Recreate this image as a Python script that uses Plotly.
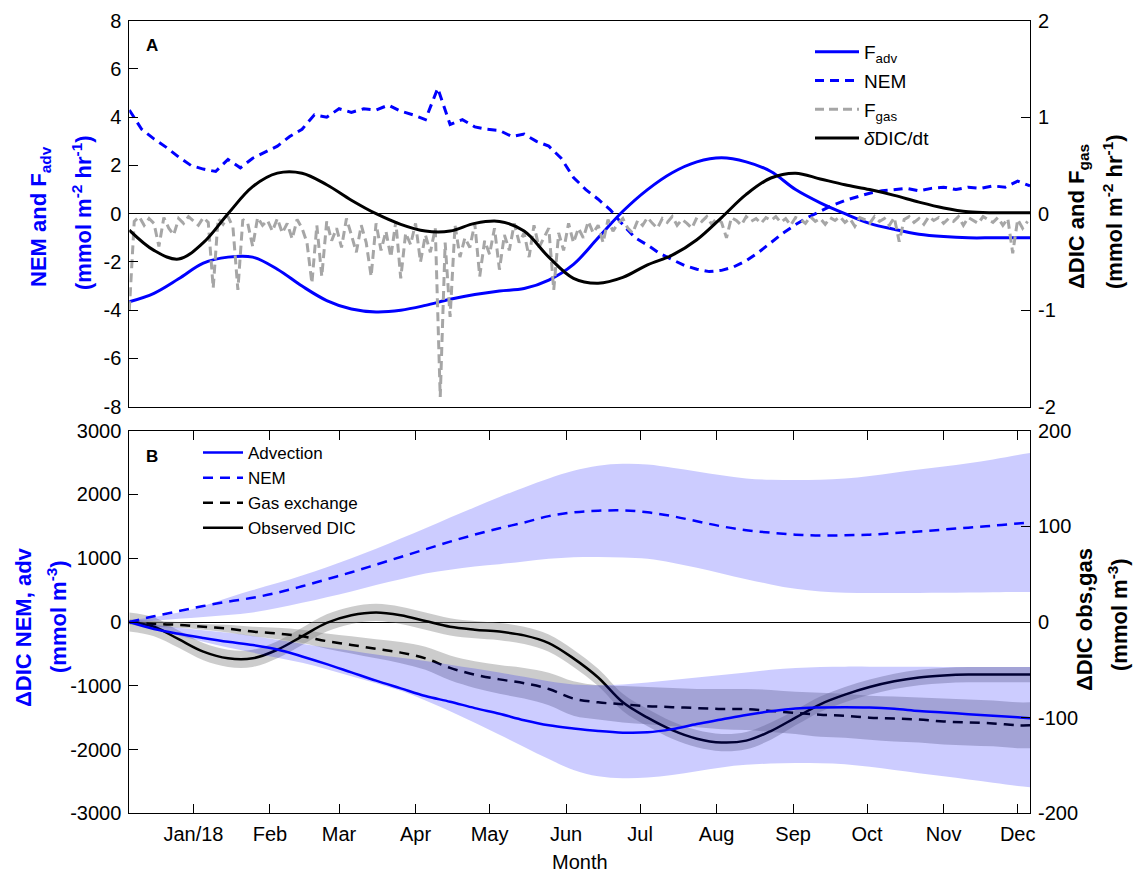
import pandas as pd
import plotly.graph_objects as go

# ---------------- data ----------------
START = pd.Timestamp("2017-12-06")
END = pd.Timestamp("2018-12-06")

# sample days (offset from START)
DAYS_10 = list(range(0, 361, 10)) + [365]
DAYS_5 = list(range(0, 366, 5))
DAYS_2 = list(range(0, 365, 2))

MONTH_TICKS = ["2018-01-01", "2018-02-01", "2018-03-01", "2018-04-01", "2018-05-01", "2018-06-01",
               "2018-07-01", "2018-08-01", "2018-09-01", "2018-10-01", "2018-11-01", "2018-12-01"]
MONTH_LABELS = ["Jan/18", "Feb", "Mar", "Apr", "May", "Jun", "Jul", "Aug", "Sep", "Oct", "Nov", "Dec"]

YA_TICKS = [-8, -6, -4, -2, 0, 2, 4, 6, 8]
YA_LABELS = ["-8", "-6", "-4", "-2", "0", "2", "4", "6", "8"]
YA2_TICKS = [-2, -1, 0, 1, 2]
YA2_LABELS = ["-2", "-1", "0", "1", "2"]
YB_TICKS = [-3000, -2000, -1000, 0, 1000, 2000, 3000]
YB_LABELS = ["-3000", "-2000", "-1000", "0", "1000", "2000", "3000"]
YB2_TICKS = [-200, -100, 0, 100, 200]
YB2_LABELS = ["-200", "-100", "0", "100", "200"]

# Panel A (left axis, mmol m-2 hr-1)
F_ADV = [-3.65, -3.3, -2.7, -2.05, -1.8, -1.8, -2.3, -3.0, -3.6, -3.95, -4.07, -4.0, -3.8, -3.55,
         -3.35, -3.2, -3.1, -2.75, -2.1, -1.0, 0.1, 1.0, 1.7, 2.15, 2.32, 2.15, 1.75, 1.0, 0.45, 0.0,
         -0.4, -0.65, -0.85, -0.95, -1.0, -1.0, -1.0, -1.0]
NEM_A = [4.3, 3.5, 3.1, 2.75, 2.35, 2.0, 1.85, 1.75, 2.25, 1.9, 2.3, 2.55, 2.8, 3.2, 3.5, 4.1, 4.0,
         4.35, 4.2, 4.35, 4.3, 4.5, 4.25, 4.1, 3.9, 5.2, 3.7, 3.9, 3.6, 3.5, 3.45, 3.2, 3.3, 3.0, 2.8,
         2.3, 1.5, 1.0, 0.6, 0.15, -0.45, -1.0, -1.3, -1.65, -1.9, -2.15, -2.3, -2.4, -2.35, -2.2,
         -1.95, -1.6, -1.2, -0.8, -0.45, -0.15, 0.1, 0.35, 0.55, 0.7, 0.85, 0.95, 1.0, 1.05, 0.95,
         1.05, 1.1, 1.0, 1.1, 1.05, 1.15, 1.1, 1.35, 1.15]
# Panel A (right axis), 2-day samples
F_GAS = [-1.0, -0.08, -0.03, -0.12, -0.05, -0.1, -0.34, -0.04, -0.15, -0.22,
         -0.05, -0.1, -0.03, -0.08, -0.12, -0.04, -0.09, -0.77, -0.05, -0.11,
         -0.03, -0.14, -0.79, -0.06, -0.1, -0.34, -0.04, -0.12, -0.07, -0.18,
         -0.05, -0.2, -0.1, -0.26, -0.06, -0.15, -0.3, -0.72, -0.12, -0.65,
         -0.08, -0.28, -0.15, -0.35, -0.05, -0.22, -0.4, -0.12, -0.3, -0.65,
         -0.1, -0.38, -0.18, -0.45, -0.08, -0.67, -0.2, -0.32, -0.1, -0.5,
         -0.22, -0.4, -0.15, -1.9, -0.3, -1.07, -0.12, -0.45, -0.25, -0.35,
         -0.1, -0.65, -0.28, -0.42, -0.15, -0.58, -0.22, -0.38, -0.1, -0.3,
         -0.2, -0.45, -0.12, -0.35, -0.25, -0.15, -0.79, -0.2, -0.38, -0.1,
         -0.3, -0.15, -0.25, -0.08, -0.2, -0.12, -0.3, -0.06, -0.18, -0.1,
         -0.05, -0.15, -0.2, -0.07, -0.12, -0.04, -0.1, -0.15, -0.05, -0.09,
         -0.03, -0.12, -0.06, -0.1, -0.15, -0.04, -0.08, -0.03, -0.11, -0.05,
         -0.09, -0.25, -0.04, -0.07, -0.12, -0.03, -0.08, -0.05, -0.1, -0.04,
         -0.07, -0.03, -0.09, -0.05, -0.12, -0.04, -0.06, -0.1, -0.03, -0.08,
         -0.05, -0.11, -0.04, -0.07, -0.03, -0.09, -0.05, -0.13, -0.04, -0.06,
         -0.1, -0.03, -0.08, -0.05, -0.12, -0.04, -0.29, -0.06, -0.03, -0.09,
         -0.05, -0.11, -0.03, -0.07, -0.04, -0.1, -0.05, -0.08, -0.03, -0.12,
         -0.04, -0.07, -0.1, -0.03, -0.06, -0.09, -0.04, -0.12, -0.05, -0.41,
         -0.06, -0.15, -0.08]
DDIC_DT = [-0.17, -0.38, -0.47, -0.3, 0.0, 0.28, 0.42, 0.42, 0.3, 0.14, 0.0, -0.11, -0.18, -0.18,
           -0.1, -0.08, -0.18, -0.45, -0.67, -0.72, -0.66, -0.53, -0.43, -0.27, -0.04, 0.2, 0.37,
           0.42, 0.36, 0.3, 0.25, 0.19, 0.12, 0.06, 0.02, 0.01, 0.01, 0.01]

# Panel B (left axis, mmol m-3)
ADV = [0, -110, -185, -250, -310, -360, -430, -540, -660, -790, -920, -1040, -1160, -1250, -1350,
       -1440, -1540, -1620, -1670, -1710, -1735, -1730, -1680, -1600, -1530, -1460, -1400, -1355,
       -1340, -1335, -1340, -1360, -1395, -1420, -1445, -1470, -1495, -1510]
ADV_HI = [10, -40, -90, -130, -170, -220, -280, -340, -400, -450, -510, -560, -610, -670, -730,
          -790, -860, -930, -980, -990, -980, -950, -910, -870, -830, -790, -750, -720, -705, -700,
          -700, -700, -702, -705, -705, -707, -707, -707]
ADV_LO = [-10, -110, -210, -310, -400, -480, -560, -640, -740, -850, -960, -1080, -1230, -1400,
          -1580, -1770, -1960, -2150, -2320, -2420, -2450, -2440, -2400, -2340, -2280, -2240, -2220,
          -2210, -2215, -2230, -2270, -2320, -2370, -2420, -2470, -2520, -2570, -2590]
NEM_B = [0, 90, 170, 250, 320, 380, 460, 560, 670, 780, 900, 1020, 1140, 1260, 1370, 1470, 1560,
         1660, 1720, 1745, 1750, 1720, 1660, 1580, 1500, 1440, 1400, 1370, 1355, 1360, 1370, 1395,
         1420, 1450, 1480, 1510, 1545, 1560]
NEM_HI = [30, 80, 150, 250, 380, 500, 610, 730, 860, 1000, 1150, 1310, 1470, 1640, 1800, 1960,
          2110, 2250, 2370, 2450, 2480, 2470, 2420, 2360, 2300, 2250, 2230, 2225, 2230, 2250, 2290,
          2340, 2390, 2440, 2490, 2550, 2620, 2650]
NEM_LO = [-20, 20, 50, 80, 110, 150, 220, 300, 390, 480, 580, 670, 760, 820, 870, 905, 950, 990,
          1015, 1020, 1010, 990, 930, 850, 760, 670, 590, 520, 480, 460, 455, 455, 455, 458, 462,
          466, 470, 472]
# Panel B (right axis, mmol m-3)
GAS = [0, -2, -3, -5, -7, -10, -12, -15, -20, -24, -28, -32, -38, -48, -55, -60, -64, -70, -80,
       -84, -86, -88, -89, -90, -91, -91, -93, -95, -97, -98, -100, -101, -102, -104, -105, -106,
       -108, -108]
GAS_HI = [3, 1, 0, -2, -3, -5, -6, -8, -12, -15, -18, -21, -26, -35, -41, -45, -48, -53, -62, -66,
          -67, -68, -69, -70, -70, -70, -71, -73, -74, -75, -77, -78, -79, -80, -81, -82, -84, -84]
GAS_LO = [-3, -5, -6, -8, -11, -15, -18, -22, -28, -33, -38, -43, -50, -61, -69, -75, -80, -87,
          -98, -102, -105, -107, -109, -110, -112, -113, -115, -117, -120, -121, -123, -125, -126,
          -128, -129, -130, -132, -132]
OBS = [0, -5, -18, -31, -38, -38, -29, -15, -1, 7, 10, 7, 1, -5, -8, -10, -14, -22, -38, -58, -84,
       -100, -113, -122, -126, -124, -114, -100, -86, -76, -68, -62, -58, -56, -55, -55, -55, -55]
OBS_ERR = [10, 10, 9, 9, 9, 9, 9, 9, 9, 9, 9, 9, 9, 9, 9, 9, 9, 9, 9, 9, 9, 9, 9, 9, 9, 9, 9, 8,
           8, 8, 8, 8, 8, 8, 8, 8, 8, 8]

# ---------------- helpers ----------------
def dates(days):
    return [START + pd.Timedelta(days=d) for d in days]

X10 = dates(DAYS_10)
X5 = dates(DAYS_5)
X2 = dates(DAYS_2)
OBS_HI = [o + e for o, e in zip(OBS, OBS_ERR)]
OBS_LO = [o - e for o, e in zip(OBS, OBS_ERR)]

W, H = 1138, 878
FONT = "Liberation Sans, Arial, Helvetica, sans-serif"
BLUE = "#0000ff"
GRAY = "#a6a6a6"

def px(x):
    return x / W

def py(y):
    return 1 - y / H

fig = go.Figure()

# ---------- Panel A ----------
fig.add_trace(go.Scatter(x=X10, y=F_ADV, xaxis="x", yaxis="y", mode="lines", name="F<sub>adv</sub>",
                         line=dict(color=BLUE, width=3, shape="spline"), legend="legend", legendgroup="a1"))
fig.add_trace(go.Scatter(x=X5, y=NEM_A, xaxis="x", yaxis="y", mode="lines", name="NEM",
                         line=dict(color=BLUE, width=3, dash="9px,6px"), legend="legend", legendgroup="a2"))
fig.add_trace(go.Scatter(x=X2, y=F_GAS, xaxis="x", yaxis="y2", mode="lines", name="F<sub>gas</sub>",
                         line=dict(color=GRAY, width=3, dash="9px,5px"), legend="legend", legendgroup="a3"))
fig.add_trace(go.Scatter(x=X10, y=DDIC_DT, xaxis="x", yaxis="y2", mode="lines", name="<i>δ</i>DIC/dt",
                         line=dict(color="black", width=3, shape="spline"), legend="legend", legendgroup="a4"))

# ---------- Panel B ----------
BAND_GRAY = "rgba(128,128,128,0.4)"
BAND_BLUE = "rgba(0,0,255,0.2)"
# right-axis (y3) bands & lines
fig.add_trace(go.Scatter(x=X10, y=GAS_LO, xaxis="x2", yaxis="y3", mode="lines", line=dict(width=0, shape="spline"),
                         showlegend=False, hoverinfo="skip"))
fig.add_trace(go.Scatter(x=X10, y=GAS_HI, xaxis="x2", yaxis="y3", mode="lines", line=dict(width=0, shape="spline"),
                         fill="tonexty", fillcolor=BAND_GRAY, showlegend=False, hoverinfo="skip"))
fig.add_trace(go.Scatter(x=X10, y=OBS_LO, xaxis="x2", yaxis="y3", mode="lines", line=dict(width=0, shape="spline"),
                         showlegend=False, hoverinfo="skip"))
fig.add_trace(go.Scatter(x=X10, y=OBS_HI, xaxis="x2", yaxis="y3", mode="lines", line=dict(width=0, shape="spline"),
                         fill="tonexty", fillcolor=BAND_GRAY, showlegend=False, hoverinfo="skip"))
fig.add_trace(go.Scatter(x=X10, y=GAS, xaxis="x2", yaxis="y3", mode="lines", name="Gas exchange",
                         line=dict(color="black", width=2.5, dash="10px,7px", shape="spline"),
                         legend="legend2", legendrank=3))
fig.add_trace(go.Scatter(x=X10, y=OBS, xaxis="x2", yaxis="y3", mode="lines", name="Observed DIC",
                         line=dict(color="black", width=2.5, shape="spline"), legend="legend2", legendrank=4))
# left-axis (y4) bands & lines
fig.add_trace(go.Scatter(x=X10, y=NEM_LO, xaxis="x2", yaxis="y4", mode="lines", line=dict(width=0, shape="spline"),
                         showlegend=False, hoverinfo="skip"))
fig.add_trace(go.Scatter(x=X10, y=NEM_HI, xaxis="x2", yaxis="y4", mode="lines", line=dict(width=0, shape="spline"),
                         fill="tonexty", fillcolor=BAND_BLUE, showlegend=False, hoverinfo="skip"))
fig.add_trace(go.Scatter(x=X10, y=ADV_LO, xaxis="x2", yaxis="y4", mode="lines", line=dict(width=0, shape="spline"),
                         showlegend=False, hoverinfo="skip"))
fig.add_trace(go.Scatter(x=X10, y=ADV_HI, xaxis="x2", yaxis="y4", mode="lines", line=dict(width=0, shape="spline"),
                         fill="tonexty", fillcolor=BAND_BLUE, showlegend=False, hoverinfo="skip"))
fig.add_trace(go.Scatter(x=X10, y=ADV, xaxis="x2", yaxis="y4", mode="lines", name="Advection",
                         line=dict(color=BLUE, width=2.5, shape="spline"), legend="legend2", legendrank=1))
fig.add_trace(go.Scatter(x=X10, y=NEM_B, xaxis="x2", yaxis="y4", mode="lines", name="NEM",
                         line=dict(color=BLUE, width=2.5, dash="10px,7px", shape="spline"),
                         legend="legend2", legendrank=2))

XDOM = [px(129.3), px(1030)]
A_DOM = [py(406.7), py(20.7)]
B_DOM = [py(813.3), py(430.7)]
tickfont = dict(family=FONT, size=20, color="black")
common_y = dict(showgrid=False, ticks="inside", ticklen=9, tickwidth=1, tickcolor="black",
                showline=True, linecolor="black", linewidth=1, tickfont=tickfont,
                ticklabelstandoff=3)

fig.update_layout(
    width=W, height=H, margin=dict(l=0, r=0, t=0, b=0, autoexpand=False),
    paper_bgcolor="white", plot_bgcolor="white",
    font=dict(family=FONT, size=18, color="black"),
    xaxis=dict(domain=XDOM, anchor="y", type="date", range=[START, END], showgrid=False,
               showline=True, mirror=True, linecolor="black", linewidth=1, ticks="",
               showticklabels=False, zeroline=False),
    yaxis=dict(domain=A_DOM, anchor="x", range=[-8, 8], tickvals=YA_TICKS, ticktext=YA_LABELS,
               side="left", zeroline=True, zerolinecolor="black", zerolinewidth=1, **common_y),
    yaxis2=dict(range=[-2, 2], tickvals=YA2_TICKS, ticktext=YA2_LABELS, side="right", overlaying="y",
                anchor="x", zeroline=False, **common_y),
    xaxis2=dict(domain=XDOM, anchor="y3", type="date", range=[START, END], showgrid=False,
                showline=True, mirror="ticks", linecolor="black", linewidth=1, ticks="inside",
                ticklen=9, tickcolor="black", tickvals=MONTH_TICKS, ticktext=MONTH_LABELS,
                tickfont=tickfont, ticklabelstandoff=3, zeroline=False),
    yaxis3=dict(domain=B_DOM, anchor="x2", range=[-200, 200], tickvals=YB2_TICKS, ticktext=YB2_LABELS,
                side="right", zeroline=True, zerolinecolor="black", zerolinewidth=1, **common_y),
    yaxis4=dict(range=[-3000, 3000], tickvals=YB_TICKS, ticktext=YB_LABELS,
                side="left", overlaying="y3", anchor="x2", zeroline=False, **common_y),
    legend=dict(x=px(810), y=py(33), xanchor="left", yanchor="top", bgcolor="rgba(0,0,0,0)",
                font=dict(family=FONT, size=19, color="black"), tracegroupgap=1, itemwidth=44,
                traceorder="grouped"),
    legend2=dict(x=px(198), y=py(435), xanchor="left", yanchor="top", bgcolor="rgba(0,0,0,0)",
                 font=dict(family=FONT, size=17, color="black"), tracegroupgap=0, itemwidth=40),
    showlegend=True,
)

ann = [
    dict(text="<b>NEM and F<sub>adv</sub></b>", x=px(40), y=py(217), color=BLUE, size=22),
    dict(text="<b>(mmol m<sup>-2</sup> hr<sup>-1</sup>)</b>", x=px(82), y=py(212), color=BLUE, size=22),
    dict(text="<b>ΔDIC and F<sub>gas</sub></b>", x=px(1078), y=py(217), color="black", size=22),
    dict(text="<b>(mmol m<sup>-2</sup> hr<sup>-1</sup>)</b>", x=px(1113), y=py(212), color="black", size=22),
    dict(text="<b>ΔDIC NEM, adv</b>", x=px(23), y=py(627), color=BLUE, size=22),
    dict(text="<b>(mmol m<sup>-3</sup>)</b>", x=px(57), y=py(617), color=BLUE, size=22),
    dict(text="<b>ΔDIC obs,gas</b>", x=px(1084), y=py(620), color="black", size=22),
    dict(text="<b>(mmol m<sup>-3</sup>)</b>", x=px(1118), y=py(615), color="black", size=22),
]
for a in ann:
    fig.add_annotation(text=a["text"], x=a["x"], y=a["y"], xref="paper", yref="paper",
                       xanchor="center", yanchor="middle", textangle=-90, showarrow=False,
                       font=dict(family=FONT, size=a["size"], color=a["color"]))
fig.add_annotation(text="Month", x=px(580), y=py(862), xref="paper", yref="paper", showarrow=False,
                   xanchor="center", yanchor="middle", font=dict(family=FONT, size=20, color="black"))
fig.add_annotation(text="<b>A</b>", x=px(152), y=py(45), xref="paper", yref="paper", showarrow=False,
                   xanchor="center", yanchor="middle", font=dict(family=FONT, size=17, color="black"))
fig.add_annotation(text="<b>B</b>", x=px(152), y=py(456), xref="paper", yref="paper", showarrow=False,
                   xanchor="center", yanchor="middle", font=dict(family=FONT, size=17, color="black"))

fig.write_html("out.html", config={"displayModeBar": False},
               post_script="document.body.style.margin='0';document.body.style.padding='0';")
